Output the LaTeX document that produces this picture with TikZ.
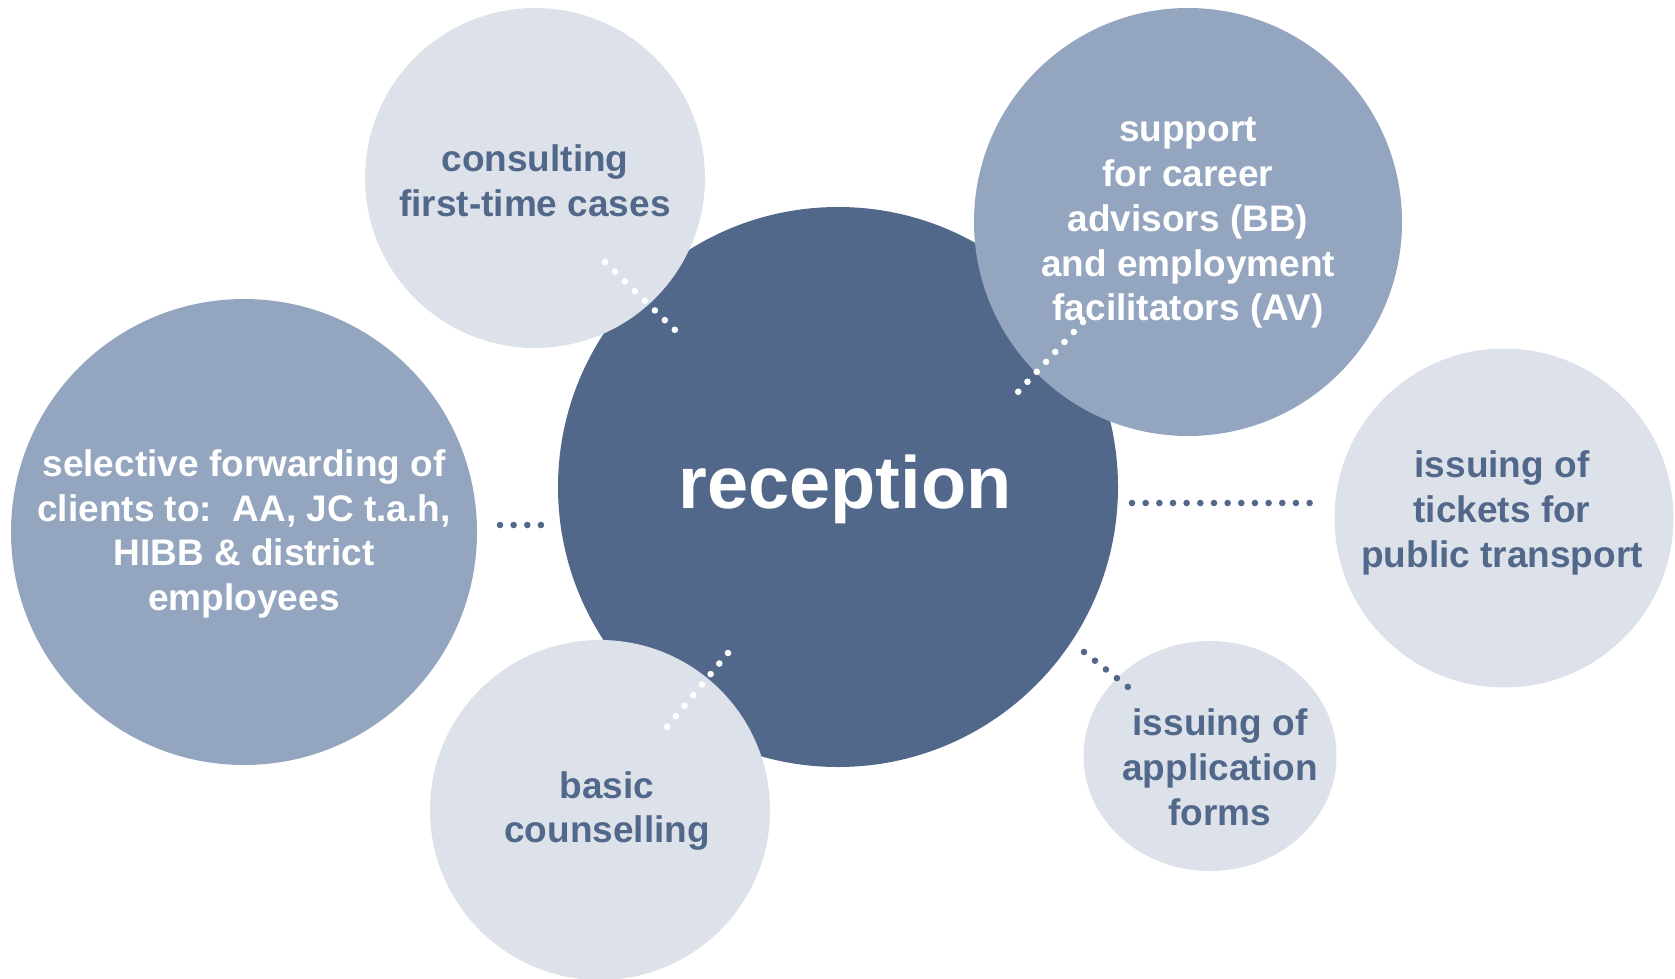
\documentclass[tikz,border=0pt]{standalone}
\usepackage{fontspec}
\setmainfont{Liberation Sans}
\usetikzlibrary{shapes.geometric}
\definecolor{darkb}{HTML}{52688A}
\definecolor{midb}{HTML}{94A5BF}
\definecolor{lightb}{HTML}{DDE2EA}
\tikzset{
  bubble/.style={circle, inner sep=0pt, outer sep=0pt, draw=none},
  txt/.style={align=center, inner sep=0pt, font=\fontsize{18.5pt}{22.4pt}\selectfont\bfseries},
  txtdark/.style={txt, text=darkb},
  txtwhite/.style={txt, text=white},
  dotline/.style={line width=3.3pt, line cap=round, dash pattern=on 0pt off #1},
}
\begin{document}
\begin{tikzpicture}[x=0.5pt, y=-0.5pt]
\useasboundingbox (0,0) rectangle (1675,979);
% center
\node[bubble, fill=darkb, minimum size=280pt] (rec) at (838,487) {};
\node[txt, text=white, font=\fontsize{37pt}{44pt}\selectfont\bfseries] (rect) at (845,489) {reception};
% surrounding
\node[bubble, fill=lightb, minimum size=170pt] (cons) at (535,178) {};
\node[txtdark] (const) at (535,181) {consulting\\first-time cases};
\node[bubble, fill=midb, minimum size=214pt] (supp) at (1188,222) {};
\node[txtwhite] (suppt) at (1188,223) {support\\for career\\advisors (BB)\\and employment\\facilitators (AV)};
\node[bubble, fill=lightb, minimum size=169.5pt] (tick) at (1504,518) {};
\node[txtdark] (tickt) at (1502,513) {issuing of\\tickets for\\public transport};
\node[bubble, fill=midb, minimum size=233pt] (sel) at (244,532) {};
\node[txtwhite] (selt) at (244,534) {selective forwarding of\\clients to:\ \ AA, JC t.a.h,\\HIBB \& district\\employees};
\node[bubble, fill=lightb, minimum size=170pt] (bas) at (600,810) {};
\node[txtdark] (bast) at (607,811) {basic\\counselling};
\node[ellipse, inner sep=0pt, outer sep=0pt, fill=lightb, minimum width=126.5pt, minimum height=115pt] (app) at (1210,756) {};
\node[txtdark] (appt) at (1220,767) {issuing of\\application\\forms};
% dotted connectors
\coordinate (c1a) at (605,262); \coordinate (c1b) at (675,330);
\coordinate (c2a) at (1083,322); \coordinate (c2b) at (1018,392);
\coordinate (c3a) at (728,653); \coordinate (c3b) at (667,727);
\coordinate (c4a) at (500,525); \coordinate (c4b) at (541,525);
\coordinate (c5a) at (1132,503); \coordinate (c5b) at (1310,503);
\coordinate (c6a) at (1084,652); \coordinate (c6b) at (1128,687);
\draw[white, dotline=6.95pt] (c1a) -- (c1b);
\draw[white, dotline=6.80pt] (c2a) -- (c2b);
\draw[white, dotline=6.83pt] (c3a) -- (c3b);
\draw[darkb, dotline=6.82pt] (c4a) -- (c4b);
\draw[darkb, dotline=6.83pt] (c5a) -- (c5b);
\draw[darkb, dotline=7.00pt] (c6a) -- (c6b);
\end{tikzpicture}
\end{document}
